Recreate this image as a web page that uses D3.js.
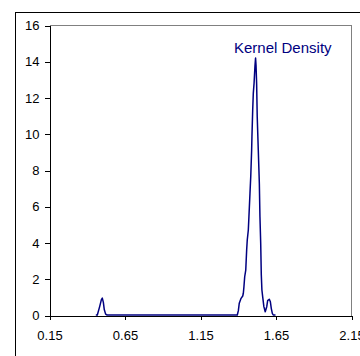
<!DOCTYPE html>
<html>
<head>
<meta charset="utf-8">
<script src="https://cdn.jsdelivr.net/npm/d3@7"></script>
<style>
  body { margin: 0; background: #fff; }
  svg { display: block; font-family: "Liberation Sans", Arial, sans-serif; }
</style>
</head>
<body>
<div id="chart"></div>
<script>
// data
var densityX = [0.46, 0.47, 0.485, 0.497, 0.503, 0.51, 0.516, 0.525, 0.535, 1.39,
  1.397, 1.404, 1.410, 1.422, 1.433, 1.437, 1.441, 1.446, 1.453, 1.459, 1.463, 1.470,
  1.474, 1.481, 1.486, 1.492, 1.494, 1.499, 1.503, 1.508, 1.514, 1.518, 1.521, 1.525,
  1.529, 1.536, 1.543, 1.547, 1.552, 1.556, 1.560, 1.565, 1.573, 1.582, 1.592, 1.598,
  1.609, 1.616, 1.622, 1.629, 1.635, 1.65];
var densityY = [0, 0, 0.45, 0.85, 0.93, 0.7, 0.3, 0.05, 0, 0,
  0, 0.24, 0.65, 0.92, 1.05, 1.20, 1.56, 2.11, 2.48, 3.59, 4.14, 4.69,
  5.42, 6.71, 7.63, 9.10, 9.84, 11.31, 12.23, 12.78, 13.74, 14.18, 13.79, 12.78,
  10.94, 9.10, 7.27, 5.42, 3.96, 2.21, 1.38, 1.01, 0.46, 0.18, 0.46, 0.79,
  0.87, 0.73, 0.37, 0.09, 0, 0];
var xTicks = [0.15, 0.65, 1.15, 1.65, 2.15];
var yTicks = [0, 2, 4, 6, 8, 10, 12, 14, 16];
var seriesName = "Kernel Density";

var width = 360, height = 356;
var plot = { left: 49, right: 351, top: 25, bottom: 315 };

var svg = d3.select("#chart").append("svg")
    .attr("width", width)
    .attr("height", height);

// outer chart frame (runs off the picture)
svg.append("rect")
    .attr("x", 15.5)
    .attr("y", 12.5)
    .attr("width", 400)
    .attr("height", 400)
    .attr("fill", "#fff")
    .attr("stroke", "#000");

var x = d3.scaleLinear().domain([0.15, 2.15]).range([plot.left, plot.right]);
var y = d3.scaleLinear().domain([0, 16]).range([plot.bottom, plot.top]);

// plot area border, grey top and right
svg.append("path")
    .attr("d", "M" + (plot.left + 0.5) + "," + (plot.top + 0.5) + "H" + (plot.right + 0.5) + "V" + (plot.bottom + 0.5))
    .attr("fill", "none")
    .attr("stroke", "#808080")
    .attr("shape-rendering", "crispEdges");

// x axis
var xAxis = svg.append("g")
    .attr("transform", "translate(0.5," + (plot.bottom + 0.5) + ")")
    .call(d3.axisBottom(x).tickValues(xTicks).tickFormat(d3.format(".2f"))
        .tickSize(4).tickSizeOuter(0).tickPadding(11));

// y axis
var yAxis = svg.append("g")
    .attr("transform", "translate(" + (plot.left + 0.5) + ",0.5)")
    .call(d3.axisLeft(y).tickValues(yTicks).tickFormat(d3.format("d"))
        .tickSize(5).tickSizeOuter(0).tickPadding(5));

svg.selectAll(".tick text")
    .attr("font-size", "13px")
    .attr("font-family", "'Liberation Sans', Arial, sans-serif")
    .attr("fill", "#000");
svg.selectAll(".domain, .tick line")
    .attr("stroke", "#000")
    .attr("shape-rendering", "crispEdges");

// density line
var pts = densityX.map(function(d, i) { return [d, densityY[i]]; });
var line = d3.line()
    .x(function(d) { return x(d[0]); })
    .y(function(d) { return y(d[1]); });

svg.append("path")
    .datum(pts)
    .attr("d", line)
    .attr("fill", "none")
    .attr("stroke", "#000080")
    .attr("stroke-width", 1.5)
    .attr("stroke-linejoin", "round");

// series label
svg.append("text")
    .attr("x", 234)
    .attr("y", 53)
    .attr("font-size", "15px")
    .attr("fill", "#000080")
    .text(seriesName);
</script>
</body>
</html>
